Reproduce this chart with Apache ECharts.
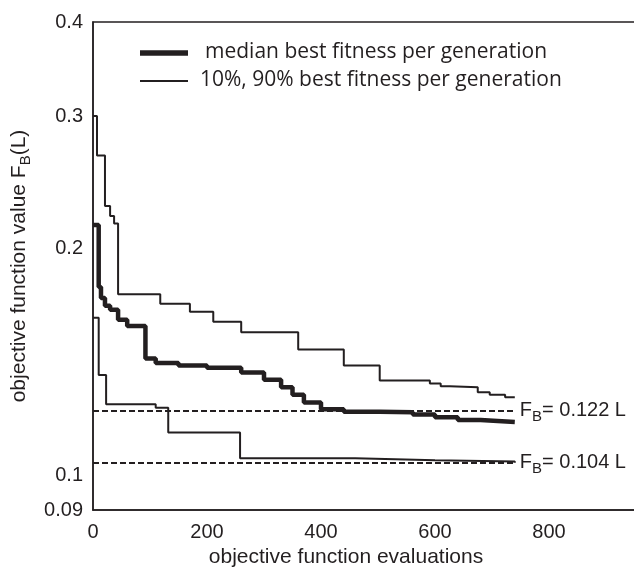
<!DOCTYPE html>
<html>
<head>
<meta charset="utf-8">
<script src="https://cdn.jsdelivr.net/npm/echarts@6/dist/echarts.min.js"></script>
<style>
  html, body { margin: 0; padding: 0; background: #fff; }
  #chart { width: 634px; height: 572px; }
</style>
</head>
<body>
<div id="chart"></div>
<script>
// Objective function evaluations (x) and best fitness values (y), stepwise
const upper90X = [0, 7, 21, 30, 37, 44, 118, 170, 211, 260, 360, 440, 503, 591, 610, 626, 675, 696, 723, 740];
const upper90Y = [0.300, 0.266, 0.228, 0.221, 0.216, 0.174, 0.169, 0.165, 0.160, 0.155, 0.147, 0.140, 0.1337, 0.1325, 0.1314, 0.131, 0.129, 0.128, 0.127, 0.127];

const medianX = [0, 10, 14, 21, 30, 44, 60, 92, 110, 150, 200, 260, 300, 330, 350, 370, 400, 440, 503, 561, 600, 640, 680, 740];
const medianY = [0.215, 0.178, 0.172, 0.168, 0.166, 0.161, 0.158, 0.143, 0.141, 0.140, 0.139, 0.137, 0.134, 0.131, 0.128, 0.125, 0.1225, 0.1215, 0.1213, 0.1205, 0.1195, 0.1185, 0.1178, 0.1176];

const lower10X = [0, 10, 23, 110, 132, 258, 460, 600, 740];
const lower10Y = [0.162, 0.136, 0.1243, 0.123, 0.1141, 0.1054, 0.1048, 0.1044, 0.104];

// Reference levels drawn as dashed lines
const refLevels = [0.122, 0.104];
const refEndX = 740;

// Axis ticks
const xTickValues = [0, 200, 400, 600, 800];
const yTickValues = [0.09, 0.1, 0.2, 0.3, 0.4];

const INK = '#231f20';
const AXIS_FONT = '"Liberation Sans", Arial, sans-serif';
const LEGEND_FONT = '"Open Sans", "Noto Sans", sans-serif';

function pairs(xs, ys) { return xs.map((x, i) => [x, ys[i]]); }

const chart = echarts.init(document.getElementById('chart'), null, { renderer: 'canvas' });

const refLines = refLevels.map(v => ([
  { coord: [0, v] },
  { coord: [refEndX, v], label: { formatter: '{f|F}{s|B}{t|= ' + v.toFixed(3) + ' L}' } }
]));

const option = {
  animation: false,
  backgroundColor: '#fff',
  grid: {
    left: 93, top: 22, width: 570, height: 488,
    containLabel: false, outerBoundsMode: 'none',
    show: true, borderColor: INK, borderWidth: 1.5, backgroundColor: 'transparent'
  },
  xAxis: {
    type: 'value', min: 0, max: 1000, interval: 200,
    name: 'objective function evaluations',
    nameLocation: 'middle', nameGap: 37,
    // extra right padding moves the title toward the visible part of the axis
    nameTextStyle: { color: INK, fontFamily: AXIS_FONT, fontSize: 21, padding: [0, 64, 0, 0] },
    axisLine: { show: true, lineStyle: { color: INK, width: 1.5 } },
    axisTick: { show: false },
    splitLine: { show: false },
    axisLabel: {
      color: INK, fontFamily: AXIS_FONT, fontSize: 20, margin: 12,
      customValues: xTickValues
    }
  },
  yAxis: {
    type: 'log', logBase: 10, min: 0.09, max: 0.4,
    name: 'objective function value F{s|B}(L)',
    nameLocation: 'middle', nameRotate: 90, nameGap: 53,
    nameTextStyle: {
      color: INK, fontFamily: AXIS_FONT, fontSize: 21,
      rich: { s: { fontFamily: AXIS_FONT, fontSize: 15, color: INK, padding: [13, 0, 0, 0] } }
    },
    axisLine: { show: true, lineStyle: { color: INK, width: 1.5 } },
    axisTick: { show: false },
    splitLine: { show: false },
    minorSplitLine: { show: false },
    axisLabel: {
      color: INK, fontFamily: AXIS_FONT, fontSize: 20, margin: 10,
      customValues: yTickValues,
      formatter: v => String(+(+v).toPrecision(3))
    }
  },
  graphic: [
    { type: 'line', shape: { x1: 140, y1: 53, x2: 188, y2: 53 }, style: { stroke: INK, lineWidth: 5.5 } },
    { type: 'line', shape: { x1: 140, y1: 81, x2: 188, y2: 81 }, style: { stroke: INK, lineWidth: 2 } },
    { type: 'text', x: 205, y: 52, style: { text: 'median best fitness per generation', fill: INK, font: '21px ' + LEGEND_FONT, verticalAlign: 'middle' } },
    { type: 'text', x: 200, y: 80, style: { text: '10%, 90% best fitness per generation', fill: INK, font: '21px ' + LEGEND_FONT, verticalAlign: 'middle' } }
  ],
  series: [
    {
      name: '90%', type: 'line', step: 'end', symbol: 'none', data: pairs(upper90X, upper90Y),
      lineStyle: { color: INK, width: 2 }, z: 3,
      markLine: {
        silent: true, symbol: 'none',
        lineStyle: { color: INK, width: 2, type: [6, 3] },
        label: {
          show: true, position: 'end', distance: 5, color: INK,
          rich: {
            f: { fontFamily: AXIS_FONT, fontSize: 20, color: INK },
            s: { fontFamily: AXIS_FONT, fontSize: 15, color: INK, padding: [13, 0, 0, 0] },
            t: { fontFamily: AXIS_FONT, fontSize: 20, color: INK }
          }
        },
        data: refLines
      }
    },
    {
      name: 'median', type: 'line', step: 'end', symbol: 'none', data: pairs(medianX, medianY),
      lineStyle: { color: INK, width: 4.5 }, z: 4
    },
    {
      name: '10%', type: 'line', step: 'end', symbol: 'none', data: pairs(lower10X, lower10Y),
      lineStyle: { color: INK, width: 2 }, z: 3
    }
  ]
};

chart.setOption(option);
</script>
</body>
</html>
